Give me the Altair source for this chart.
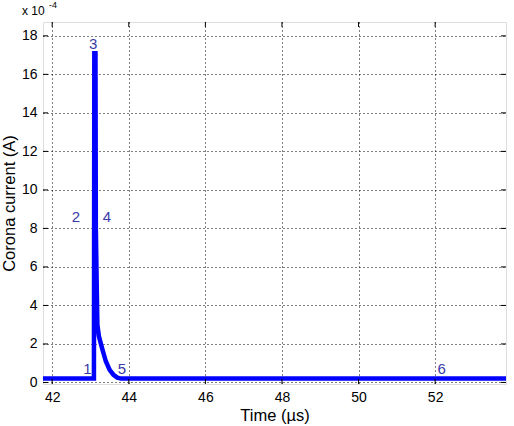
import altair as alt
import pandas as pd

# Time (us) and corona current (x1e-4 A)
time_us = [41.76, 43.09, 43.10, 43.13, 43.14, 43.16, 43.18, 43.22, 43.30, 43.40, 43.50, 43.60, 43.70, 43.80, 53.85]
current = [0.2, 0.2, 17.1, 17.1, 8.0, 5.4, 3.0, 2.4, 1.8, 1.1, 0.65, 0.4, 0.25, 0.2, 0.2]

lab_text = ["1", "2", "3", "4", "5", "6"]
lab_x = [42.92, 42.62, 43.07, 43.43, 43.82, 52.17]
lab_y = [0.7, 8.6, 17.6, 8.6, 0.7, 0.7]

xticks = [42, 44, 46, 48, 50, 52]
yticks = [0, 2, 4, 6, 8, 10, 12, 14, 16, 18]

W, H = 463, 362
df = pd.DataFrame({"t": time_us, "i": current})
labs = pd.DataFrame({"t": lab_x, "i": lab_y, "s": lab_text})
xt = pd.DataFrame({"t": xticks})
yt = pd.DataFrame({"i": yticks})

FONT = "Liberation Sans"
xs = alt.Scale(domain=[41.76, 53.85], nice=False, zero=False)
ys = alt.Scale(domain=[-0.08, 18.72], nice=False, zero=False)

xax = alt.Axis(values=xticks, title="Time (\u00b5s)", grid=True, gridColor="black",
               gridDash=[1, 3], gridOpacity=1, tickSize=0, domain=False,
               labelFont=FONT, labelFontSize=14, labelColor="black", labelPadding=6,
               titleFont=FONT, titleFontSize=16.5, titleFontWeight="normal", titleColor="black",
               titlePadding=3, format="d")
yax = alt.Axis(values=yticks, title="Corona current (A)", grid=True, gridColor="black",
               gridDash=[1, 3], gridOpacity=1, tickSize=0, domain=False,
               labelFont=FONT, labelFontSize=14, labelColor="black", labelPadding=6,
               titleFont=FONT, titleFontSize=16.5, titleFontWeight="normal", titleColor="black",
               titlePadding=4, format="d")

line = alt.Chart(df).mark_line(color="#0000ff", strokeWidth=4.5, clip=True).encode(
    x=alt.X("t:Q", scale=xs, axis=xax),
    y=alt.Y("i:Q", scale=ys, axis=yax),
)

tick_style = dict(color="black", strokeWidth=1)
xb = alt.Chart(xt).mark_rule(**tick_style).encode(
    x=alt.X("t:Q", scale=xs), y=alt.value(H), y2=alt.value(H - 5))
xtp = alt.Chart(xt).mark_rule(**tick_style).encode(
    x=alt.X("t:Q", scale=xs), y=alt.value(0), y2=alt.value(5))
yl = alt.Chart(yt).mark_rule(**tick_style).encode(
    y=alt.Y("i:Q", scale=ys), x=alt.value(0), x2=alt.value(5))
yr = alt.Chart(yt).mark_rule(**tick_style).encode(
    y=alt.Y("i:Q", scale=ys), x=alt.value(W), x2=alt.value(W - 5))

text = alt.Chart(labs).mark_text(color="#3a3aa8", font=FONT, fontSize=15).encode(
    x=alt.X("t:Q", scale=xs), y=alt.Y("i:Q", scale=ys), text="s:N"
)

exp1 = alt.Chart(pd.DataFrame({"s": ["x 10"]})).mark_text(
    font=FONT, fontSize=12, align="left", baseline="middle", color="black"
).encode(x=alt.value(-21), y=alt.value(-11), text="s:N")
exp2 = alt.Chart(pd.DataFrame({"s": ["-4"]})).mark_text(
    font=FONT, fontSize=9, align="left", baseline="middle", color="black"
).encode(x=alt.value(6), y=alt.value(-17), text="s:N")

chart = alt.layer(line, xb, xtp, yl, yr, text, exp1, exp2).properties(
    width=W, height=H,
    autosize=alt.AutoSizeParams(type="none"),
    padding={"left": 43, "top": 22, "right": 8, "bottom": 42},
).configure_view(stroke="black", strokeWidth=1).configure(background="white")

chart.save("out.html", embed_options={"renderer": "svg", "actions": False})
